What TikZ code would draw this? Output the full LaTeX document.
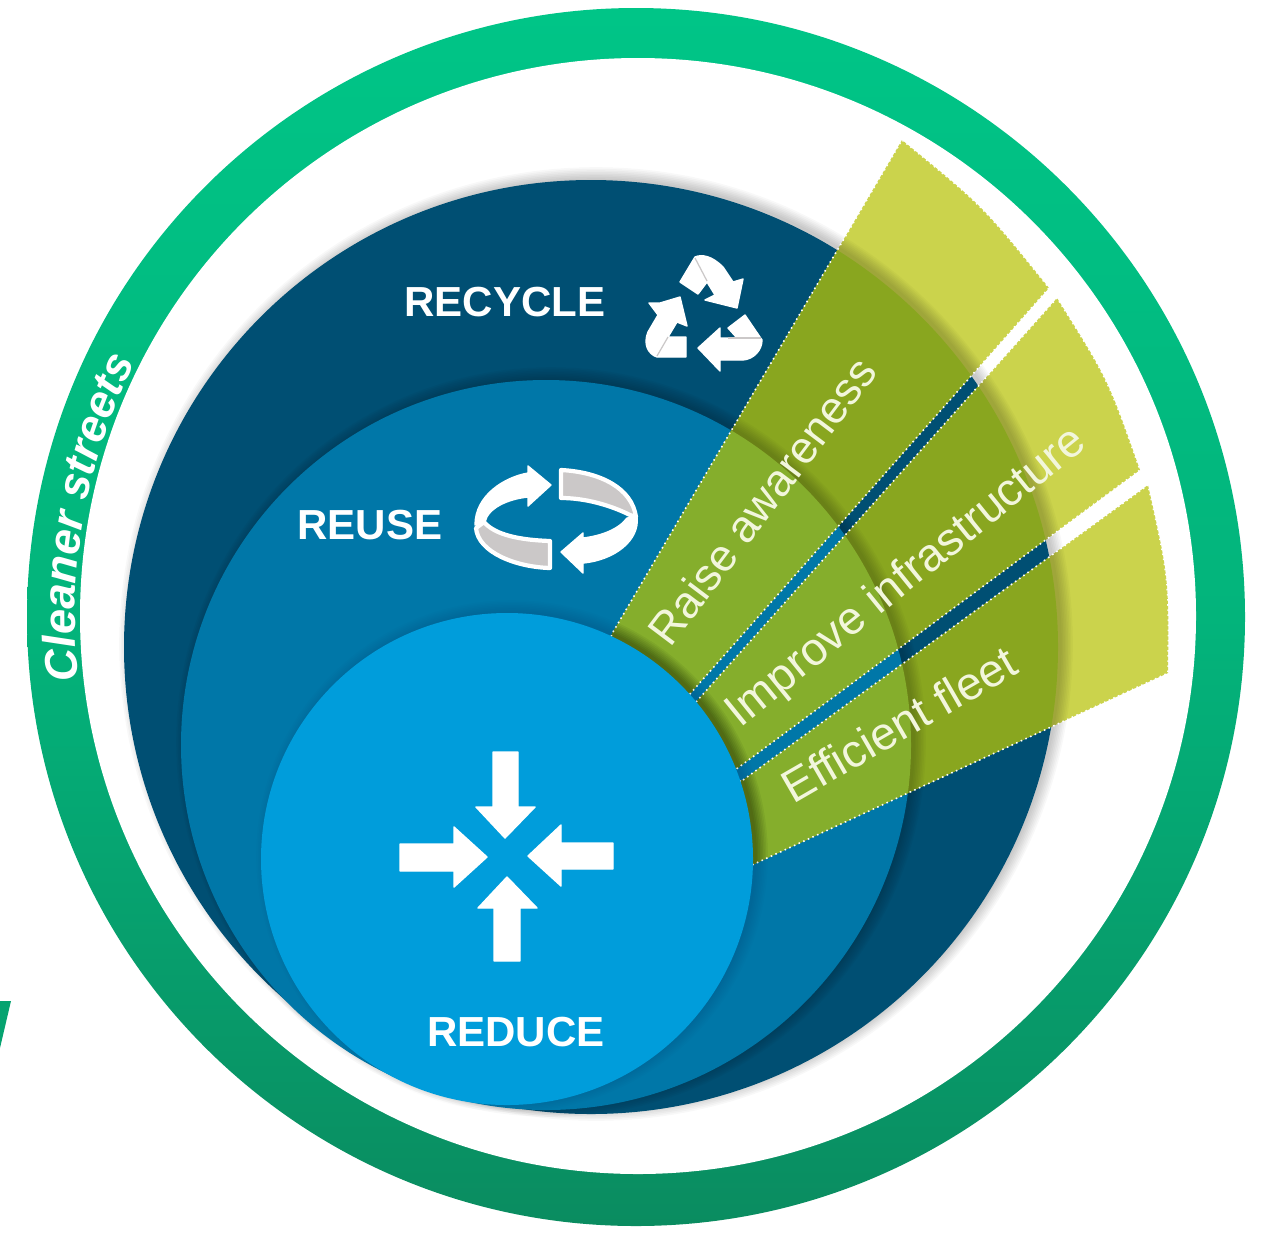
\documentclass[tikz,border=0pt]{standalone}
\usepackage{fontspec}
\setmainfont{Liberation Sans}
\usetikzlibrary{decorations.text}
\definecolor{darkblue}{HTML}{004F73}
\definecolor{midblue}{HTML}{0077A8}
\definecolor{lightblue}{HTML}{009DDB}
\definecolor{limeout}{HTML}{CBD34C}
\definecolor{limedark}{HTML}{89A61F}
\definecolor{limemid}{HTML}{85AE2C}
\definecolor{ringtop}{HTML}{00C587}
\definecolor{ringbot}{HTML}{0A8C60}
\definecolor{icongrey}{HTML}{CBC8C8}
\definecolor{labeltext}{HTML}{F2F6DC}
\newcommand\softshadow[4]{%
  \foreach \i in {1,...,8}{\fill[black,opacity=#4] (#1+5,#2-3) circle[radius=#3-3+\i*1.6];}%
}
\newcommand\wdgone{(613,632) -- (902,140) .. controls (983,206) .. (1049,288) -- (689,695) -- (520,850) -- cycle}
\newcommand\wdgtwo{(696,702) -- (1057,298) .. controls (1108,379) .. (1140,470) -- (735,770) -- (520,850) -- cycle}
\newcommand\wdgthree{(743,780) -- (1148,485) .. controls (1169,578) .. (1168,673) -- (752,865) -- (520,850) -- cycle}
\newcommand\fanwedge[1]{%
  \begin{scope}
    \clip #1;
    \fill[limeout] (0,0) rectangle (1261,1233);
    \softshadow{591}{647}{467}{0.028}
    \fill[limedark] (591,647) circle[radius=467];
    \softshadow{546}{745}{365}{0.028}
    \fill[limemid] (546,745) circle[radius=365];
    \softshadow{507}{859}{246}{0.04}
  \end{scope}
  \draw[wedgeedge] #1;%
}
\tikzset{
  wedgeedge/.style={white,line width=0.45pt,densely dotted},
  bigtitle/.style={text=white,font=\bfseries\fontsize{11.95}{14}\selectfont,inner sep=0pt},
  fanlabel/.style={text=labeltext,font=\fontsize{13.1}{15}\selectfont,inner sep=0pt},
  iconwhite/.style={fill=white,draw=white,line width=0.4pt,line join=round},
  iconband/.style={fill=icongrey,draw=white,line width=1.2pt,line join=round},
  icondiv/.style={draw=icongrey,line width=0.35pt}
}
\begin{document}
\begin{tikzpicture}[x=0.01cm,y=-0.01cm]
\useasboundingbox (0,0) rectangle (1261,1233);
\fill[white] (0,0) rectangle (1261,1233);
% outer ring
\shade[top color=ringtop,bottom color=ringbot,middle color=ringtop!70!ringbot] (636,617) circle[radius=609];
\fill[white] (638,616) circle[radius=558];
\fill[ringbot!60!ringtop] (0,1001) -- (11,1001) -- (0,1048) -- cycle;
\path[decorate,decoration={text along path,text color=white,text align=left,
  text={|\bfseries\itshape\fontsize{12.9}{15}\selectfont|Cleaner streets}}]
  (78.5,680) .. controls (66.1,568.7) and (87.1,455.2) .. (139,356);
% circles
\softshadow{591}{647}{467}{0.028}
\fill[darkblue] (591,647) circle[radius=467];
\softshadow{546}{745}{365}{0.028}
\fill[midblue] (546,745) circle[radius=365];
% fan
\fanwedge{\wdgone}
\fanwedge{\wdgtwo}
\fanwedge{\wdgthree}
% centre circle
\softshadow{507}{859}{246}{0.012}
\fill[lightblue] (507,859) circle[radius=246];
% titles
\node[bigtitle] (recycle) at (505,302) {RECYCLE};
\node[bigtitle] (reuse) at (370,525) {REUSE};
\node[bigtitle] (reduce) at (516,1032) {REDUCE};
% fan labels
\node[fanlabel,font=\fontsize{12.8}{15}\selectfont,rotate=53] (raise) at (762,501) {Raise awareness};
\node[fanlabel,rotate=39] (improve) at (907,578) {Improve infrastructure};
\node[fanlabel,rotate=30] (fleet) at (899,724) {Efficient fleet};
% recycle icon
\path[iconwhite] (680,282) -- (695,257) .. controls (702,254) and (712,256) .. (723,267) -- (733,282) -- (743,279) -- (737,308) -- (705,300) -- (715,295) -- (707,282) -- (698,294) -- cycle;
\path[iconwhite] (649,303) -- (660,303) -- (680,297) -- (687,326) -- (677,322) -- (668,337) -- (686,337) -- (686,357) -- (657,357) .. controls (648,354) and (643,344) .. (648,332) -- (658,315) -- cycle;
\path[iconwhite] (698,348) -- (720,328) -- (720,338) -- (737,338) -- (728,328) -- (745,315) -- (762,340) .. controls (762,350) and (754,359) .. (743,360) -- (720,360) -- (720,371) -- cycle;
\draw[icondiv] (695,258) -- (707,281);
\draw[icondiv] (657,356) -- (668,337);
\draw[icondiv] (728,338) -- (761,338);
% reuse icon
\path[iconband] (476,528) .. controls (478,552) and (515,567) .. (550,568) -- (550,541) .. controls (520,540) and (495,535) .. (484,522) -- cycle;
\path[iconwhite] (475,525) .. controls (475,495) and (505,477) .. (528,473) -- (528,466) -- (551,485) -- (528,506) -- (528,497) .. controls (508,499) and (488,508) .. (485,522) -- cycle;
\path[iconband] (561,470) .. controls (600,472) and (632,488) .. (636,517) -- (630,515) .. controls (610,505) and (585,498) .. (561,498) -- cycle;
\path[iconwhite] (561,552) -- (583,533) -- (583,538) .. controls (600,536) and (618,530) .. (627,518) -- (637,517) .. controls (640,540) and (615,560) .. (583,563) -- (583,573) -- cycle;
% reduce icon
\path[iconwhite] (493,752) -- (518,752) -- (518,807) -- (535,807) -- (505,838) -- (476,807) -- (493,807) -- cycle;
\path[iconwhite] (400,844) -- (454,844) -- (454,827) -- (487,857) -- (454,887) -- (454,871) -- (400,871) -- cycle;
\path[iconwhite] (613,843) -- (561,843) -- (561,825) -- (528,856) -- (561,886) -- (561,869) -- (613,869) -- cycle;
\path[iconwhite] (494,961) -- (520,961) -- (520,908) -- (537,908) -- (507,877) -- (478,908) -- (494,908) -- cycle;
\end{tikzpicture}
\end{document}
